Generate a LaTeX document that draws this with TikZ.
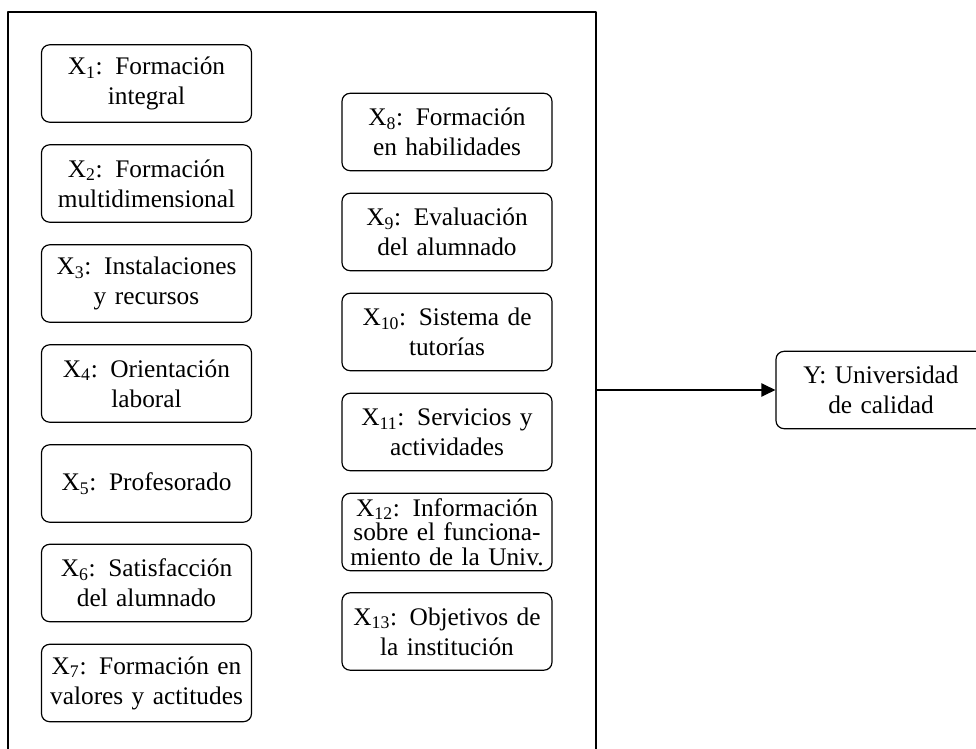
\documentclass[tikz,border=0pt]{standalone}
\usepackage{fontspec}
\setmainfont{Liberation Serif}
\usetikzlibrary{arrows.meta}
\tikzset{
	caja/.style={rectangle,draw,rounded corners=6pt,line width=0.9pt,
		minimum width=157.5pt,minimum height=58pt,text width=154pt,
		inner sep=1pt,align=center,font=\fontsize{19}{22.5}\selectfont},
}
\begin{document}
\begin{tikzpicture}[x=0.75pt,y=-0.75pt,line join=round]
	\clip (0,0) rectangle (976,749);
	\useasboundingbox (0,0) rectangle (976,749);
	% marco exterior
	\path (302,386)node[rectangle,draw,line width=0.9pt,minimum width=441pt,
	minimum height=561pt,inner sep=0](marco){};
	% columna izquierda
	\path (146.5,83.5)node[caja](x1){X\textsubscript{1}: Formación\\ integral}
	++(0,100)node[caja](x2){X\textsubscript{2}: Formación\\ multidimensional}
	++(0,100)node[caja](x3){X\textsubscript{3}: Instalaciones\\ y recursos}
	++(0,100)node[caja](x4){X\textsubscript{4}: Orientación\\ laboral}
	++(0,100)node[caja](x5){X\textsubscript{5}: Profesorado}
	++(0,99.5)node[caja](x6){X\textsubscript{6}: Satisfacción\\ del alumnado}
	++(0,100)node[caja](x7){X\textsubscript{7}: Formación en\\ valores y actitudes};
	% columna derecha
	\path (447,132)node[caja](x8){X\textsubscript{8}: Formación\\ en habilidades}
	++(0,100)node[caja](x9){X\textsubscript{9}: Evaluación\\ del alumnado}
	++(0,100)node[caja](x10){X\textsubscript{10}: Sistema de\\ tutorías}
	++(0,100)node[caja](x11){X\textsubscript{11}: Servicios y\\ actividades}
	++(0,100)node[caja,font=\fontsize{19}{18.5}\selectfont](x12){X\textsubscript{12}: Información\\ sobre el funciona-\\ miento de la Univ.}
	++(0,99.5)node[caja](x13){X\textsubscript{13}: Objetivos de\\ la institución};
	% resultado
	\path (881,390)node[caja](y){Y: Universidad\\ de calidad};
	\draw[-{Triangle[length=10.5pt,width=10pt]},line width=0.9pt]
	(marco.east |- y.west)--(y.west);
\end{tikzpicture}
\end{document}
